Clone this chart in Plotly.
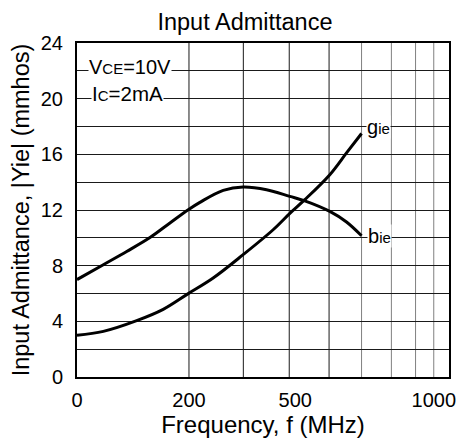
import plotly.graph_objects as go

# ---- data (log-scaled frequency axis) ----
f_gie = [100, 117.7, 144.7, 170.5, 199.1, 232.3, 279.7, 336.7, 373.4, 409.6, 478.2, 530.3, 582]
gie = [3.0, 3.28, 4.05, 4.86, 5.99, 7.11, 8.79, 10.58, 11.76, 12.74, 14.54, 16.1, 17.5]

f_bie = [100, 117.7, 136, 157.1, 177.8, 199.1, 214, 247.2, 279.7, 323.2, 373.4, 409.6, 478.2, 530.3, 582]
bie = [7.0, 8.07, 9.02, 10.02, 11.07, 12.02, 12.55, 13.41, 13.65, 13.46, 12.98, 12.66, 11.9, 11.14, 10.15]

x_tick_vals = [100, 200, 386, 910]
x_tick_text = ["0", "200", "500", "1000"]
x_grid_dark = [200, 280, 372, 476]
x_grid_light = [582, 700, 813, 910]
y_tick_vals = [0, 4, 8, 12, 16, 20, 24]

FONT = "Liberation Sans, Arial, Helvetica, sans-serif"

fig = go.Figure()
fig.add_trace(go.Scatter(x=f_bie, y=bie, mode="lines", name="bie",
                         line=dict(color="black", width=3, shape="spline", smoothing=1.0)))
fig.add_trace(go.Scatter(x=f_gie, y=gie, mode="lines", name="gie",
                         line=dict(color="black", width=3, shape="spline", smoothing=1.0)))

shapes = []
for f in x_grid_dark:
    shapes.append(dict(type="line", xref="x", yref="paper", x0=f, x1=f,
                       y0=0, y1=1, line=dict(color="#1a1a1a", width=1), layer="below"))
for f in x_grid_light:
    shapes.append(dict(type="line", xref="x", yref="paper", x0=f, x1=f,
                       y0=0, y1=1, line=dict(color="#808080", width=1), layer="below"))

small = "font-size:15px"
annotations = [
    dict(text=f"V<span style='{small}'>CE</span>=10V", xref="paper", yref="y", x=0.03, y=22.25,
         xanchor="left", yanchor="middle", showarrow=False, bgcolor="white", borderpad=0,
         font=dict(family=FONT, size=20, color="black")),
    dict(text=f"I<span style='{small}'>C</span>=2mA", xref="paper", yref="y", x=0.038, y=20.36,
         xanchor="left", yanchor="middle", showarrow=False, bgcolor="white", borderpad=0,
         font=dict(family=FONT, size=20.5, color="black")),
    dict(text=f"g<span style='{small}'>ie</span>", xref="paper", yref="y", x=0.777, y=18.0,
         xanchor="left", yanchor="middle", showarrow=False, bgcolor="white", borderpad=0,
         font=dict(family=FONT, size=20, color="black")),
    dict(text=f"b<span style='{small}'>ie</span>", xref="paper", yref="y", x=0.78, y=10.15,
         xanchor="left", yanchor="middle", showarrow=False, bgcolor="white", borderpad=0,
         font=dict(family=FONT, size=20, color="black")),
]

fig.update_layout(
    width=460, height=443,
    margin=dict(l=77, r=11, t=43, b=66),
    paper_bgcolor="white", plot_bgcolor="white",
    showlegend=False,
    font=dict(family=FONT, color="black"),
    title=dict(text="Input Admittance", x=0.5326, xref="container", xanchor="center",
               y=0.951, yref="container", yanchor="middle",
               font=dict(family=FONT, size=23.5, color="black")),
    shapes=shapes,
    annotations=annotations,
)

fig.update_xaxes(
    type="log", range=[2, 3], automargin=False,
    tickmode="array", tickvals=x_tick_vals, ticktext=x_tick_text,
    ticks="", ticklabelstandoff=4,
    tickfont=dict(family=FONT, size=20, color="black"),
    showgrid=False, zeroline=False,
    showline=True, linecolor="black", linewidth=2, mirror=True,
    title=dict(text="Frequency, f (MHz)", standoff=0,
               font=dict(family=FONT, size=24, color="black")),
)
fig.update_yaxes(
    range=[0, 24], automargin=False,
    tickmode="array", tickvals=y_tick_vals,
    ticks="", ticklabelstandoff=8,
    tickfont=dict(family=FONT, size=20, color="black"),
    showgrid=True, gridcolor="#1a1a1a", gridwidth=1,
    minor=dict(dtick=2, showgrid=True, gridcolor="#1a1a1a", gridwidth=1),
    zeroline=False,
    showline=True, linecolor="black", linewidth=2, mirror=True,
    title=dict(text="Input Admittance, |Yie| (mmhos)", standoff=5,
               font=dict(family=FONT, size=23.5, color="black")),
)

fig.write_html(
    "out.html",
    config={"displayModeBar": False},
    post_script="document.body.style.margin='0px';document.body.style.overflow='hidden';",
)
